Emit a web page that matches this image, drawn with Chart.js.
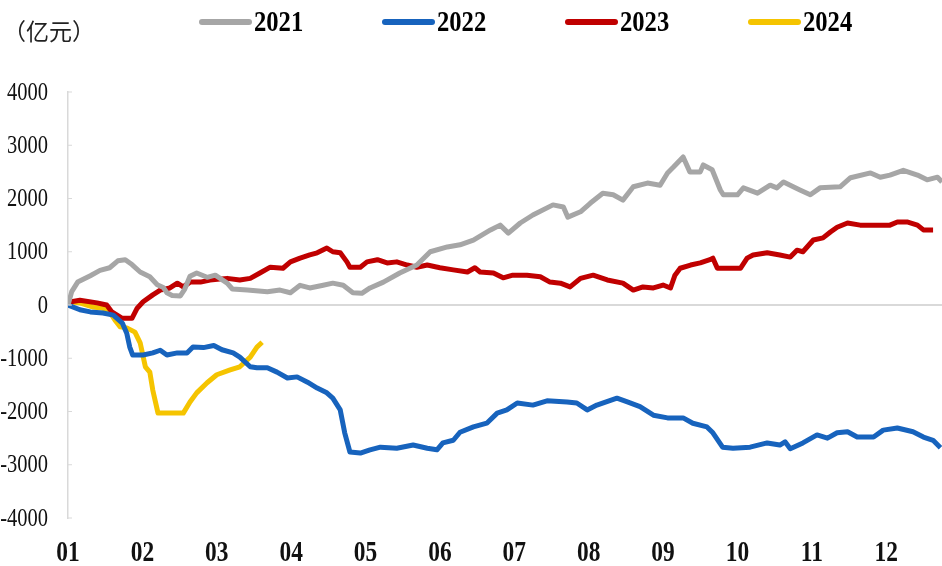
<!DOCTYPE html>
<html>
<head>
<meta charset="utf-8">
<script src="https://cdn.jsdelivr.net/npm/chart.js@4.4.1/dist/chart.umd.min.js"></script>
<style>
  html, body { margin: 0; padding: 0; background: #fff; }
  #wrap { width: 942px; height: 566px; position: relative; }
</style>
</head>
<body>
<div id="wrap"><canvas id="flowChart" width="942" height="566"></canvas></div>
<script>
// 月份刻度（01-12）
const monthLabels = ['01', '02', '03', '04', '05', '06', '07', '08', '09', '10', '11', '12'];
const yTicks = [4000, 3000, 2000, 1000, 0, -1000, -2000, -3000, -4000];
const seriesNames = ['2021', '2022', '2023', '2024'];
const seriesColors = ['#a6a6a6', '#1763bd', '#c00000', '#f5c400'];

// 横轴位置：以月为单位（0 = 1月初）
const months2021 = [0.00, 0.05, 0.13, 0.30, 0.43, 0.56, 0.67, 0.77, 0.86, 0.97, 1.10, 1.20, 1.28, 1.33, 1.40, 1.51, 1.57, 1.64, 1.73, 1.87, 1.98, 2.14, 2.21, 2.41, 2.68, 2.85, 2.99, 3.12, 3.25, 3.43, 3.56, 3.70, 3.83, 3.95, 4.06, 4.24, 4.46, 4.69, 4.87, 5.10, 5.27, 5.45, 5.68, 5.81, 5.92, 6.08, 6.25, 6.52, 6.66, 6.72, 6.89, 7.02, 7.19, 7.33, 7.46, 7.60, 7.79, 7.96, 8.06, 8.14, 8.27, 8.36, 8.50, 8.54, 8.66, 8.77, 8.81, 9.00, 9.08, 9.27, 9.44, 9.53, 9.62, 9.75, 9.84, 9.98, 10.11, 10.38, 10.52, 10.79, 10.92, 11.05, 11.23, 11.42, 11.55, 11.69, 11.75];
const values2021 = [0, 250, 430, 550, 650, 700, 830, 850, 760, 620, 530, 380, 330, 230, 180, 170, 300, 540, 600, 520, 560, 410, 300, 280, 250, 280, 230, 370, 320, 370, 410, 370, 230, 220, 320, 430, 600, 750, 1000, 1090, 1130, 1220, 1410, 1500, 1350, 1540, 1690, 1880, 1840, 1650, 1750, 1910, 2100, 2070, 1970, 2220, 2290, 2250, 2480, 2590, 2780, 2500, 2500, 2630, 2540, 2160, 2070, 2070, 2200, 2100, 2250, 2200, 2310, 2220, 2160, 2070, 2200, 2220, 2390, 2480, 2400, 2440, 2530, 2440, 2350, 2400, 2310];

const months2022 = [0.00, 0.16, 0.30, 0.47, 0.61, 0.73, 0.79, 0.83, 0.87, 1.01, 1.14, 1.24, 1.33, 1.47, 1.60, 1.68, 1.82, 1.96, 2.07, 2.22, 2.31, 2.45, 2.54, 2.68, 2.81, 2.95, 3.08, 3.22, 3.35, 3.48, 3.56, 3.66, 3.72, 3.79, 3.93, 4.06, 4.20, 4.42, 4.64, 4.83, 4.96, 5.04, 5.18, 5.27, 5.45, 5.63, 5.77, 5.90, 6.04, 6.25, 6.44, 6.71, 6.84, 6.98, 7.11, 7.38, 7.52, 7.69, 7.87, 8.06, 8.27, 8.40, 8.59, 8.67, 8.80, 8.94, 9.17, 9.40, 9.57, 9.64, 9.71, 9.88, 10.07, 10.21, 10.34, 10.48, 10.61, 10.83, 10.96, 11.15, 11.36, 11.50, 11.63, 11.73];
const values2022 = [0, -90, -130, -150, -190, -340, -530, -790, -940, -940, -900, -850, -940, -900, -900, -790, -800, -760, -840, -900, -980, -1160, -1180, -1180, -1260, -1370, -1350, -1450, -1560, -1650, -1750, -1970, -2400, -2760, -2780, -2720, -2670, -2690, -2630, -2690, -2720, -2590, -2540, -2390, -2290, -2220, -2030, -1970, -1840, -1880, -1800, -1820, -1840, -1970, -1880, -1750, -1820, -1910, -2070, -2120, -2120, -2220, -2290, -2400, -2670, -2690, -2670, -2590, -2630, -2570, -2700, -2590, -2440, -2500, -2400, -2380, -2480, -2480, -2350, -2310, -2380, -2480, -2540, -2680];

const months2023 = [0.00, 0.16, 0.39, 0.52, 0.59, 0.73, 0.86, 0.93, 1.01, 1.14, 1.24, 1.37, 1.47, 1.55, 1.64, 1.78, 1.91, 2.14, 2.31, 2.45, 2.58, 2.72, 2.89, 2.99, 3.12, 3.25, 3.35, 3.48, 3.56, 3.66, 3.75, 3.79, 3.93, 4.02, 4.16, 4.29, 4.42, 4.56, 4.69, 4.83, 5.00, 5.18, 5.37, 5.47, 5.54, 5.72, 5.85, 5.98, 6.17, 6.35, 6.48, 6.62, 6.75, 6.89, 7.06, 7.25, 7.46, 7.60, 7.73, 7.87, 8.00, 8.10, 8.16, 8.23, 8.37, 8.50, 8.63, 8.67, 8.73, 9.04, 9.13, 9.21, 9.40, 9.57, 9.71, 9.80, 9.88, 10.02, 10.15, 10.25, 10.34, 10.48, 10.65, 10.88, 11.05, 11.15, 11.28, 11.42, 11.50, 11.63];
const values2023 = [50, 90, 40, 0, -130, -250, -250, -60, 60, 190, 280, 320, 410, 340, 430, 430, 470, 500, 470, 500, 600, 710, 690, 810, 880, 940, 980, 1070, 1000, 980, 810, 710, 710, 810, 850, 790, 810, 750, 710, 750, 700, 660, 620, 700, 620, 600, 510, 560, 560, 530, 430, 410, 340, 500, 560, 470, 410, 280, 340, 320, 375, 320, 560, 690, 750, 790, 850, 880, 690, 690, 880, 940, 980, 940, 900, 1030, 1000, 1220, 1260, 1370, 1460, 1540, 1500, 1500, 1500, 1560, 1560, 1500, 1410, 1410];

const months2024 = [0.00, 0.16, 0.34, 0.47, 0.56, 0.63, 0.70, 0.79, 0.90, 0.97, 1.04, 1.10, 1.14, 1.21, 1.37, 1.55, 1.64, 1.73, 1.87, 2.00, 2.18, 2.31, 2.45, 2.54, 2.61];
const values2024 = [60, 40, -40, -60, -130, -280, -410, -430, -510, -710, -1160, -1260, -1600, -2030, -2030, -2030, -1820, -1650, -1460, -1310, -1220, -1160, -980, -790, -700];

const allMonths = [months2021, months2022, months2023, months2024];
const allValues = [values2021, values2022, values2023, values2024];

const serifFont = '"Liberation Serif", "Times New Roman", serif';

// 横向压缩的文字（原图文字偏窄）
function drawNarrowText(ctx, text, x, y, font, align, sx) {
    ctx.save();
    ctx.translate(x, y);
    ctx.scale(sx, 1);
    ctx.font = font;
    ctx.textAlign = align;
    ctx.textBaseline = 'middle';
    ctx.fillText(text, 0, 0);
    ctx.restore();
}

// 自绘刻度文字、图例和单位
const textPlugin = {
    id: 'textPlugin',
    afterDraw(chart) {
        const ctx = chart.ctx;
        const xScale = chart.scales.x;
        const yScale = chart.scales.y;
        const area = chart.chartArea;
        ctx.save();
        ctx.fillStyle = '#111';

        // 纵轴刻度
        yTicks.forEach(v => {
            const py = yScale.getPixelForValue(v);
            drawNarrowText(ctx, String(v), area.left - 20, py + 1, '25px ' + serifFont, 'right', 0.82);
            ctx.strokeStyle = '#d9d9d9';
            ctx.lineWidth = 1;
            ctx.beginPath();
            ctx.moveTo(area.left, py);
            ctx.lineTo(area.left + 4, py);
            ctx.stroke();
        });

        // 横轴月份
        monthLabels.forEach((label, i) => {
            const px = xScale.getPixelForValue(i);
            drawNarrowText(ctx, label, px, 553, 'bold 30px ' + serifFont, 'center', 0.78);
        });

        // 单位
        ctx.font = '23px "Noto Sans CJK SC", sans-serif';
        ctx.textAlign = 'left';
        ctx.textBaseline = 'middle';
        ctx.fillStyle = '#222';
        ctx.fillText('（亿元）', 3, 31);

        // 图例
        seriesNames.forEach((name, i) => {
            const x0 = 202 + i * 183;
            ctx.strokeStyle = seriesColors[i];
            ctx.lineWidth = 6;
            ctx.lineCap = 'round';
            ctx.beginPath();
            ctx.moveTo(x0, 22);
            ctx.lineTo(x0 + 47, 22);
            ctx.stroke();
            ctx.fillStyle = '#000';
            drawNarrowText(ctx, name, x0 + 52, 23, 'bold 30px ' + serifFont, 'left', 0.82);
        });
        ctx.restore();
    }
};

const ctx = document.getElementById('flowChart').getContext('2d');
new Chart(ctx, {
    type: 'line',
    data: {
        datasets: seriesNames.map((name, i) => ({
            label: name,
            data: allMonths[i].map((m, j) => ({ x: m, y: allValues[i][j] })),
            borderColor: seriesColors[i],
            borderWidth: 5,
            borderJoinStyle: 'round',
            pointRadius: 0,
            tension: 0,
            fill: false
        }))
    },
    options: {
        responsive: false,
        animation: false,
        layout: { padding: { left: 68, right: 0, top: 92, bottom: 48 } },
        plugins: {
            legend: { display: false },
            tooltip: { enabled: false }
        },
        scales: {
            x: {
                type: 'linear',
                display: false,
                min: 0,
                max: 11.75,
                ticks: { stepSize: 1 }
            },
            y: {
                min: -4000,
                max: 4000,
                ticks: { display: false, stepSize: 1000 },
                grid: {
                    drawTicks: false,
                    color: c => (c.tick && c.tick.value === 0 ? '#d9d9d9' : 'rgba(0,0,0,0)'),
                    lineWidth: 2
                },
                border: { display: true, color: '#d9d9d9', width: 1.5 }
            }
        }
    },
    plugins: [textPlugin]
});
</script>
</body>
</html>
